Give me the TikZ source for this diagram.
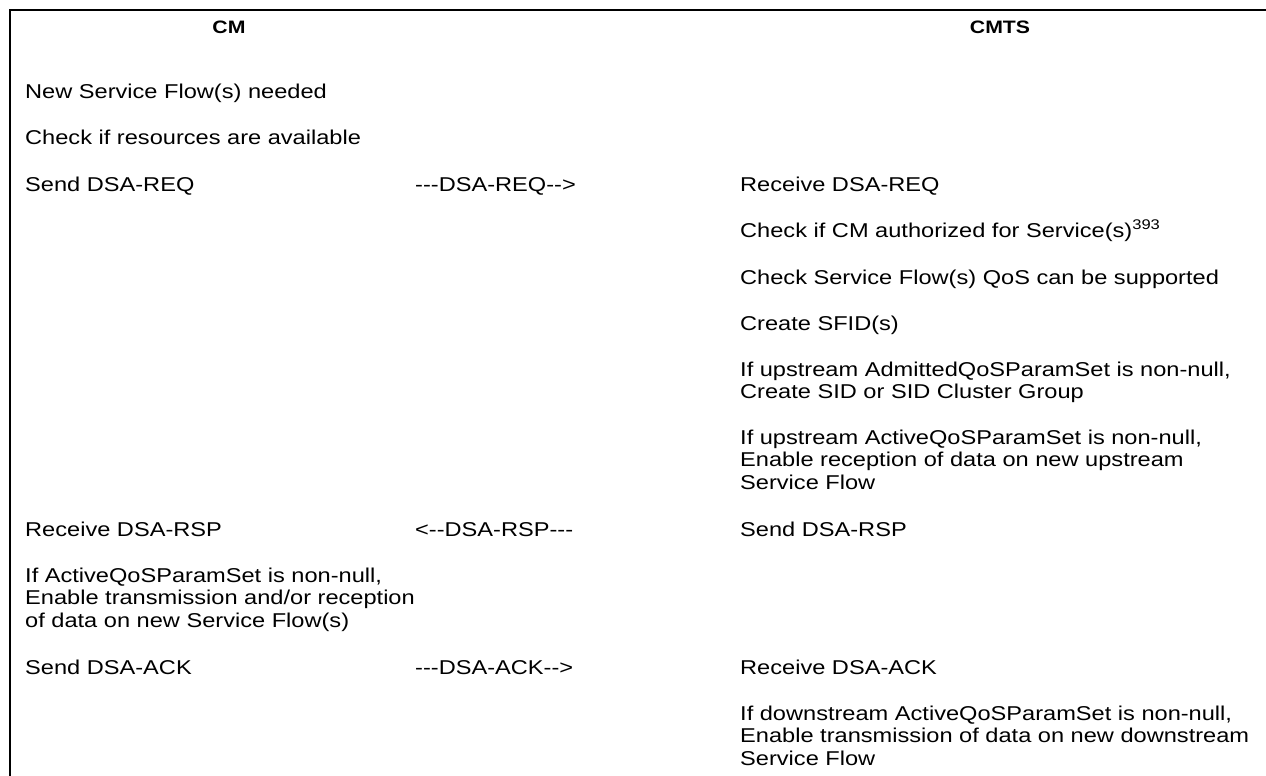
\documentclass[tikz,border=0pt]{standalone}
\usepackage{fontspec}
\setmainfont{Liberation Sans}[FakeStretch=1.18,Ligatures=TeXOff]
\newcommand{\twolines}[2]{\vtop{\hbox{#1}\hbox{#2}}}
\newcommand{\threelines}[3]{\vtop{\hbox{#1}\hbox{#2}\hbox{#3}}}
\begin{document}
\begin{tikzpicture}[x=1pt,y=-1pt,
  txt/.style={anchor=base west,inner sep=0pt,font=\fontsize{20}{22.5}\selectfont},
  hdr/.style={anchor=base,inner sep=0pt,font=\fontsize{18}{20}\selectfont\bfseries},
  frame/.style={line width=2pt}]
\useasboundingbox (0,0) rectangle (1266,776);
\coordinate (tl) at (10,10);
\coordinate (tr) at (1266,10);
\coordinate (bl) at (10,776);
\draw[frame] (tr) -- (tl) -- (bl);
\node[hdr] (hcm) at (229,34) {CM};
\node[hdr] (hcmts) at (1000,34) {CMTS};
% left column
\node[txt] (l1) at (25,98) {New Service Flow(s) needed};
\node[txt] (l2) at (25,144) {Check if resources are available};
\node[txt] (l3) at (25,191) {Send DSA-REQ};
\node[txt] (l9) at (25,536) {Receive DSA-RSP};
\node[txt] (l10) at (25,582) {\threelines{If ActiveQoSParamSet is non-null,}{Enable transmission and/or reception}{of data on new Service Flow(s)}};
\node[txt] (l11) at (25,674) {Send DSA-ACK};
% middle column
\node[txt] (m3) at (415,191) {---DSA-REQ-->};
\node[txt] (m9) at (415,536) {<--DSA-RSP---};
\node[txt] (m11) at (415,674) {---DSA-ACK-->};
% right column
\node[txt] (r3) at (740,191) {Receive DSA-REQ};
\node[txt] (r4) at (740,237) {Check if CM authorized for Service(s)\textsuperscript{393}};
\node[txt] (r5) at (740,284) {Check Service Flow(s) QoS can be supported};
\node[txt] (r6) at (740,330) {Create SFID(s)};
\node[txt] (r7) at (740,376) {\twolines{If upstream AdmittedQoSParamSet is non-null,}{Create SID or SID Cluster Group}};
\node[txt] (r8) at (740,444) {\threelines{If upstream ActiveQoSParamSet is non-null,}{Enable reception of data on new upstream}{Service Flow}};
\node[txt] (r9) at (740,536) {Send DSA-RSP};
\node[txt] (r11) at (740,674) {Receive DSA-ACK};
\node[txt] (r12) at (740,720) {\threelines{If downstream ActiveQoSParamSet is non-null,}{Enable transmission of data on new downstream}{Service Flow}};
\end{tikzpicture}
\end{document}
